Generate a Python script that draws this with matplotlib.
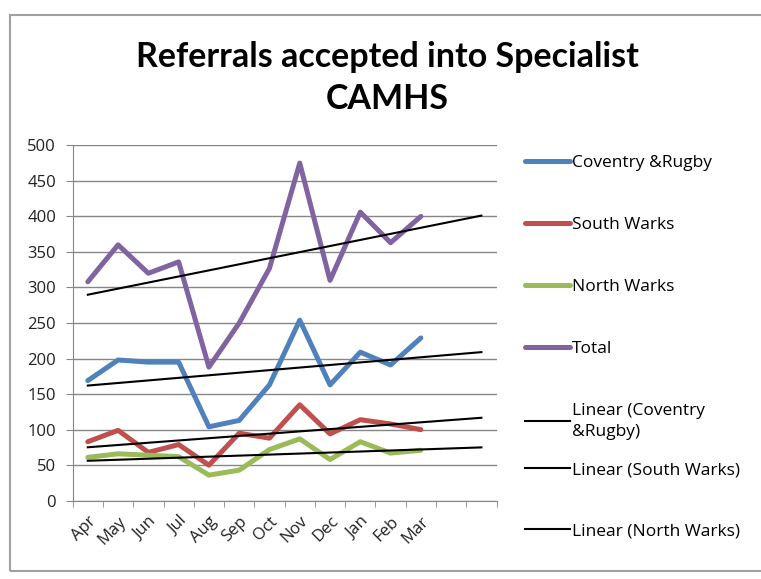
import matplotlib
matplotlib.use("Agg")
from matplotlib import pyplot as plt
from matplotlib.patches import Rectangle
import numpy as np

months = ['Apr', 'May', 'Jun', 'Jul', 'Aug', 'Sep', 'Oct', 'Nov', 'Dec', 'Jan', 'Feb', 'Mar']
coventry = [169, 198, 195, 195, 104, 113, 163, 254, 163, 209, 191, 229]
south = [83, 99, 68, 79, 50, 95, 88, 135, 94, 114, 108, 100]
north = [61, 66, 64, 62, 36, 43, 72, 87, 58, 83, 67, 71]
total = [308, 360, 320, 336, 188, 250, 327, 475, 310, 406, 363, 400]
forecast = 2  # trendlines run 2 periods past Mar

series = [('Coventry &Rugby', coventry, '#4F81BD'),
          ('South Warks', south, '#C0504D'),
          ('North Warks', north, '#9BBB59'),
          ('Total', total, '#8064A2')]
trend_labels = ['Linear (Coventry\n&Rugby)', 'Linear (South Warks)', 'Linear (North Warks)']

plt.rcParams['font.family'] = ['Open Sans', 'DejaVu Sans']
grey = '#868686'

fig = plt.figure(figsize=(7.61, 5.79), dpi=100)
ax = fig.add_axes([0.0955, 0.1352, 0.557, 0.6138])

x = np.arange(len(months))
handles = []
for name, vals, col in series:
    h, = ax.plot(x, vals, color=col, lw=3.6, solid_capstyle='round', solid_joinstyle='round')
    handles.append(h)

xt = np.arange(len(months) + forecast)
trend_handles = []
for name, vals, col in series:
    k, b = np.polyfit(x, vals, 1)
    t, = ax.plot(xt, k * xt + b, color='black', lw=1.5)
    trend_handles.append(t)

ax.set_xlim(-0.5, len(months) + forecast - 0.5)
ax.set_ylim(0, 500)
ax.set_yticks(np.arange(0, 501, 50))
ax.grid(axis='y', color=grey, lw=1)
ax.set_axisbelow(True)
ax.set_xticks(x)
ax.set_xticklabels(months, rotation=45, ha='right', rotation_mode='anchor')
ax.set_xticks(np.arange(-0.5, len(months) + forecast), minor=True)
ax.tick_params(axis='x', which='major', length=0, pad=9, labelsize=12, colors='#222222')
ax.tick_params(axis='x', which='minor', length=4, color=grey, direction='out')
ax.tick_params(axis='y', length=5, color=grey, labelsize=12, labelcolor='#222222', pad=7)
for s in ['top', 'right']:
    ax.spines[s].set_visible(False)
for s in ['left', 'bottom']:
    ax.spines[s].set_color(grey)

fig.text(0.509, 0.865, 'Referrals accepted into Specialist\nCAMHS', ha='center', va='center',
         fontsize=24.5, fontweight='bold', family='Lato', linespacing=1.4)

leg_kw = dict(frameon=False, fontsize=12.5, handlelength=2.6, handletextpad=0.1,
              borderpad=0, borderaxespad=0)
fig.legend(handles, [s[0] for s in series], loc='upper left',
           bbox_to_anchor=(0.69, 0.733), labelspacing=2.65, **leg_kw)

# Excel spaces the trendline entries evenly, one small legend each
trend_y = [421.5, 470, 531]
for t, lab, yy in zip(trend_handles, trend_labels, trend_y):
    lg = fig.legend([t], [lab], loc='center left', bbox_to_anchor=(0.69, 1 - yy / 579), **leg_kw)
    for tx in lg.get_texts():
        tx.set_linespacing(1.35)

fig.patches.append(Rectangle((9.5 / 761, 1 - 570.5 / 579), 1.0, (570.5 - 15) / 579,
                             transform=fig.transFigure, fill=False, edgecolor='#A0A0A0', lw=1.5))

fig.savefig('out.png', dpi=100)
